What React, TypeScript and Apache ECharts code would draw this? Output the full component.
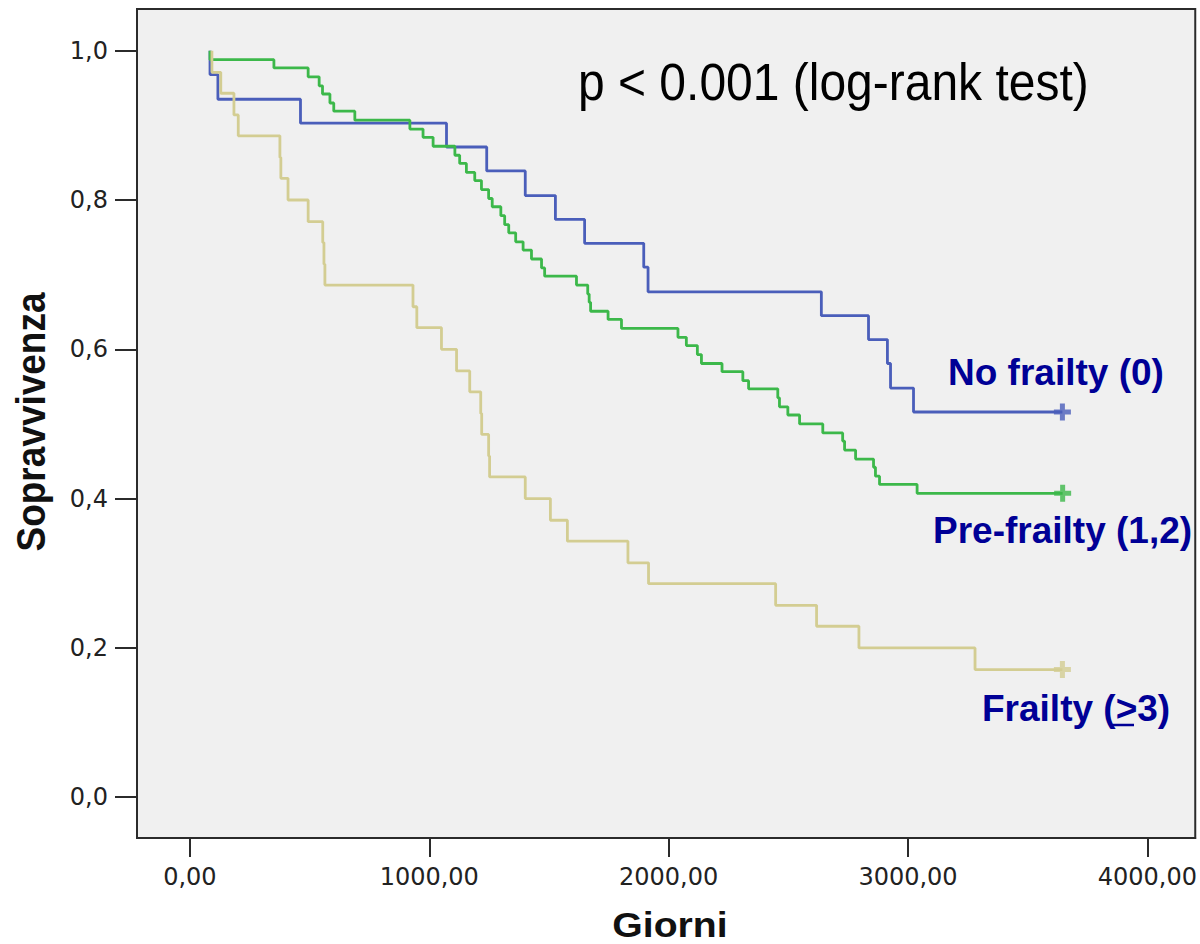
import React, { useEffect, useRef } from "react";
import * as echarts from "echarts";

// Axis ticks
const xTicks = [0, 1000, 2000, 3000, 4000];
const yTicks = [0, 0.2, 0.4, 0.6, 0.8, 1.0];

// No frailty (0)
const noFrailtyStart = 84;
const noFrailtyTimes = [84, 117, 462, 1072, 1240, 1401, 1527, 1649, 1896, 1914, 2638, 2835, 2914, 2927, 3023];
const noFrailtySurv = [0.968, 0.935, 0.903, 0.871, 0.839, 0.806, 0.774, 0.742, 0.71, 0.677, 0.645, 0.613, 0.581, 0.548, 0.516];
const noFrailtyEnd = 3645;

// Pre-frailty (1,2)
const preFrailtyStart = 84;
const preFrailtyTimes = [
  84, 351, 494, 540, 554, 585, 601, 689, 919, 974, 1016, 1107, 1127, 1155, 1190, 1218, 1248, 1263, 1299, 1315,
  1332, 1361, 1392, 1427, 1469, 1482, 1615, 1662, 1668, 1674, 1747, 1803, 2039, 2074, 2120, 2137, 2223, 2310,
  2334, 2456, 2463, 2498, 2547, 2644, 2727, 2735, 2781, 2856, 2864, 2881, 3038,
];
const preFrailtySurv = [
  0.988, 0.977, 0.965, 0.953, 0.942, 0.93, 0.919, 0.907, 0.895, 0.884, 0.872, 0.86, 0.849, 0.837, 0.826, 0.814,
  0.802, 0.791, 0.779, 0.767, 0.756, 0.744, 0.733, 0.721, 0.709, 0.698, 0.686, 0.674, 0.663, 0.651, 0.64, 0.628,
  0.616, 0.605, 0.593, 0.581, 0.57, 0.558, 0.547, 0.535, 0.523, 0.512, 0.5, 0.488, 0.477, 0.465, 0.453, 0.442,
  0.43, 0.419, 0.407,
];
const preFrailtyEnd = 3646;

// Frailty (>=3)
const frailtyStart = 92;
const frailtyTimes = [
  92, 129, 184, 202, 376, 380, 410, 494, 555, 560, 564, 932, 948, 1051, 1114, 1169, 1215, 1219, 1248, 1252, 1401,
  1506, 1577, 1830, 1916, 2447, 2618, 2795, 3280,
];
const frailtySurv = [
  0.971, 0.943, 0.914, 0.886, 0.857, 0.829, 0.8, 0.771, 0.743, 0.714, 0.686, 0.657, 0.629, 0.6, 0.571, 0.543, 0.514,
  0.486, 0.457, 0.429, 0.4, 0.371, 0.343, 0.314, 0.286, 0.257, 0.229, 0.2, 0.171,
];
const frailtyEnd = 3645;

const BLUE = "#4A5EBA";
const GREEN = "#3CB84A";
const TAN = "#D3CD92";
const LABEL = "#000096";
const AXIS = "#2b2b2b";

const PLUS = "path://M-2.5,-8.5H2.5V-2.5H8.5V2.5H2.5V8.5H-2.5V2.5H-8.5V-2.5H-2.5Z";

function stepData(start: number, times: number[], surv: number[], end: number) {
  const pts: number[][] = [[start, 1]];
  let prev = 1;
  times.forEach((t, i) => {
    pts.push([t, prev]);
    pts.push([t, surv[i]]);
    prev = surv[i];
  });
  pts.push([end, prev]);
  return pts;
}

function curve(name: string, color: string, data: number[][]) {
  return {
    name,
    type: "line",
    data,
    showSymbol: false,
    symbol: "none",
    lineStyle: { color, width: 2.8 },
    silent: true,
  };
}

function censor(color: string, x: number, y: number) {
  return {
    type: "scatter",
    data: [[x, y]],
    symbol: PLUS,
    symbolSize: 17,
    symbolKeepAspect: true,
    itemStyle: { color },
    silent: true,
    z: 5,
  };
}

export default function App() {
  const ref = useRef<HTMLDivElement>(null);

  useEffect(() => {
    if (!ref.current) return;
    const chart = echarts.init(ref.current, undefined, { renderer: "svg" });
    const lastNo = noFrailtySurv[noFrailtySurv.length - 1];
    const lastPre = preFrailtySurv[preFrailtySurv.length - 1];
    const lastF = frailtySurv[frailtySurv.length - 1];

    chart.setOption({
      animation: false,
      backgroundColor: "#ffffff",
      grid: {
        left: 137,
        right: 4,
        top: 9,
        bottom: 106,
        show: true,
        backgroundColor: "#F0F0F0",
        borderColor: AXIS,
        borderWidth: 2,
      },
      xAxis: {
        type: "value",
        min: -221,
        max: 4200,
        axisLine: { show: true, onZero: false, lineStyle: { color: AXIS, width: 2 } },
        axisTick: { show: true, customValues: xTicks, length: 19, lineStyle: { color: AXIS, width: 2 } },
        axisLabel: {
          customValues: xTicks,
          formatter: (v: number) => v.toFixed(2).replace(".", ","),
          fontFamily: "DejaVu Sans",
          fontSize: 24,
          color: "#222",
          margin: 27,
        },
        splitLine: { show: false },
      },
      yAxis: {
        type: "value",
        min: -0.0547,
        max: 1.0559,
        axisLine: { show: true, onZero: false, lineStyle: { color: AXIS, width: 2 } },
        axisTick: { show: true, customValues: yTicks, length: 22, lineStyle: { color: AXIS, width: 2 } },
        axisLabel: {
          customValues: yTicks,
          formatter: (v: number) => v.toFixed(1).replace(".", ","),
          fontFamily: "DejaVu Sans",
          fontSize: 24,
          color: "#222",
          margin: 29,
        },
        splitLine: { show: false },
      },
      series: [
        curve("No frailty (0)", BLUE, stepData(noFrailtyStart, noFrailtyTimes, noFrailtySurv, noFrailtyEnd)),
        curve("Pre-frailty (1,2)", GREEN, stepData(preFrailtyStart, preFrailtyTimes, preFrailtySurv, preFrailtyEnd)),
        curve("Frailty (>=3)", TAN, stepData(frailtyStart, frailtyTimes, frailtySurv, frailtyEnd)),
        censor(BLUE, noFrailtyEnd, lastNo),
        censor(GREEN, preFrailtyEnd, lastPre),
        censor(TAN, frailtyEnd, lastF),
      ],
      graphic: [
        {
          type: "text",
          x: 31,
          y: 422,
          rotation: Math.PI / 2,
          scaleY: 1.1,
          style: {
            text: "Sopravvivenza",
            font: 'bold 37px "Liberation Sans"',
            fill: "#111",
            align: "center",
            verticalAlign: "middle",
          },
        },
        {
          type: "text",
          x: 670,
          y: 925,
          scaleX: 1.12,
          style: {
            text: "Giorni",
            font: 'bold 35px "Liberation Sans"',
            fill: "#111",
            align: "center",
            verticalAlign: "middle",
          },
        },
        {
          type: "text",
          x: 578,
          y: 82,
          scaleY: 1.08,
          style: {
            text: "p < 0.001 (log-rank test)",
            font: '48px "Liberation Sans"',
            fill: "#000",
            align: "left",
            verticalAlign: "middle",
          },
        },
        {
          type: "text",
          x: 948,
          y: 372,
          style: {
            text: "No frailty (0)",
            font: 'bold 37px "Liberation Sans"',
            fill: LABEL,
            align: "left",
            verticalAlign: "middle",
          },
        },
        {
          type: "text",
          x: 933,
          y: 530,
          style: {
            text: "Pre-frailty (1,2)",
            font: 'bold 37px "Liberation Sans"',
            fill: LABEL,
            align: "left",
            verticalAlign: "middle",
          },
        },
        {
          type: "text",
          x: 982,
          y: 708,
          style: {
            text: "Frailty (>3)",
            font: 'bold 37px "Liberation Sans"',
            fill: LABEL,
            align: "left",
            verticalAlign: "middle",
          },
        },
        {
          type: "line",
          shape: { x1: 1112, y1: 725, x2: 1134, y2: 725 },
          style: { stroke: LABEL, lineWidth: 2.5 },
        },
      ],
    });
    return () => chart.dispose();
  }, []);

  return (
    <div
      ref={ref}
      style={{ position: "absolute", left: 0, top: 0, width: 1200, height: 944 }}
    />
  );
}
